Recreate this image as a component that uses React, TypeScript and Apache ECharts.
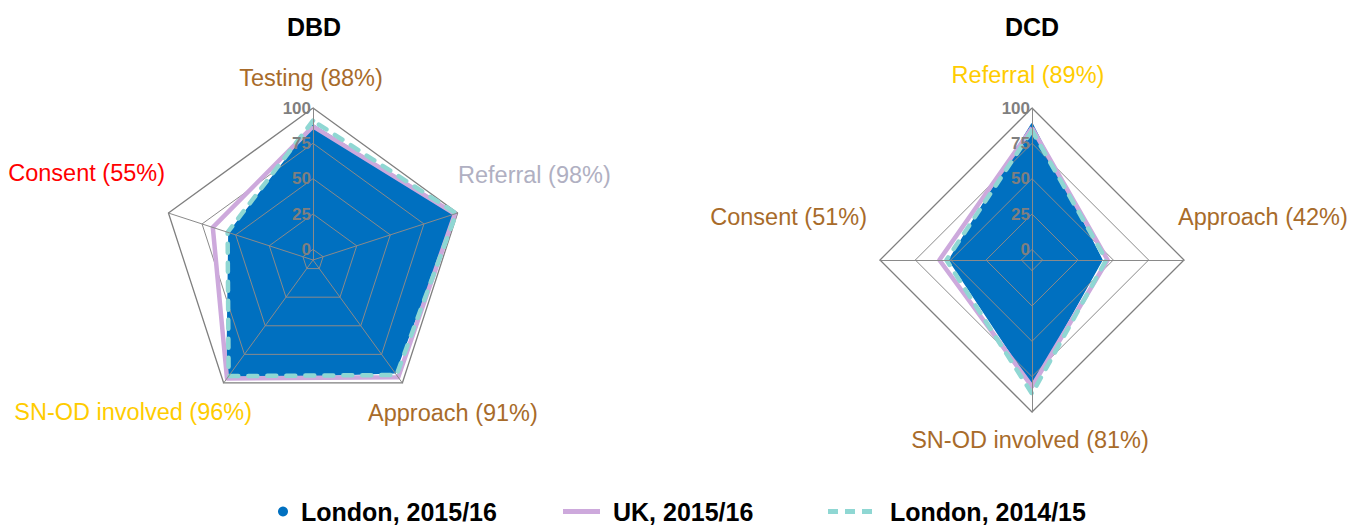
import React, { useEffect, useRef } from "react";
import * as echarts from "echarts";

// ---------- Data ----------
const seriesNames = ["London, 2015/16", "UK, 2015/16", "London, 2014/15"];

// DBD axes, in radar order (counter-clockwise from top)
const dbdAxes = ["Testing (88%)", "Consent (55%)", "SN-OD involved (96%)", "Approach (91%)", "Referral (98%)"];
const dbdLondon1516 = [88, 55, 96, 91, 98];
const dbdUK1516 = [87, 67, 96, 95, 98];
const dbdLondon1415 = [91, 56, 94, 93, 99];

// DCD axes, in radar order (counter-clockwise from top)
const dcdAxes = ["Referral (89%)", "Consent (51%)", "SN-OD involved (81%)", "Approach (42%)"];
const dcdLondon1516 = [89, 51, 81, 42];
const dcdUK1516 = [86, 58, 82, 46];
const dcdLondon1415 = [84, 53, 87, 45];

const ringLevels = [0, 25, 50, 75, 100];
const axisMin = -7.5;
const axisMax = 100;

// ---------- Styles ----------
const FONT = "'Liberation Sans', Arial, sans-serif";
const BLUE = "#0070C0";
const PURPLE = "#CDA9DC";
const CYAN = "#8FD7D3";
const GRID = "#8a8a8a";
const BROWN = "#A86B2A";
const GOLD = "#FFCC00";
const RED = "#FF0000";
const LILAC = "#B0B0C2";

const dbdColors = [BROWN, RED, GOLD, BROWN, LILAC];
const dcdColors = [GOLD, BROWN, BROWN, BROWN];

function makeIndicators(axes: string[]) {
  return axes.map((name, i) => ({
    name,
    min: axisMin,
    max: axisMax,
    ...(i === 0 ? { axisLabel: { show: true } } : {}),
  }));
}

function makeRadar(axes: string[], center: number[]) {
  return {
    center,
    radius: 152,
    startAngle: 90,
    splitNumber: 43,
    indicator: makeIndicators(axes),
    axisName: { show: false },
    splitLine: { show: false },
    splitArea: { show: false },
    axisTick: { show: false },
    axisLine: { lineStyle: { color: GRID, width: 1 } },
    axisLabel: {
      show: false,
      color: "#7f7f7f",
      fontSize: 17,
      fontWeight: "bold",
      fontFamily: FONT,
      margin: 2,
      formatter: (v: number) => (v >= 0 && Math.abs(v % 25) < 1e-6 ? String(Math.round(v)) : ""),
    },
    z: 6,
  };
}

function makeSeries(radarIndex: number, n: number, london1516: number[], uk1516: number[], london1415: number[]) {
  const rings = ringLevels.map((lvl) => ({
    type: "radar",
    radarIndex,
    name: "ring" + lvl,
    silent: true,
    symbol: "none",
    z: 3,
    lineStyle: { color: lvl === 100 ? "#7f7f7f" : GRID, width: lvl === 100 ? 1.3 : 1 },
    data: [{ value: new Array(n).fill(lvl) }],
  }));
  return [
    {
      type: "radar",
      radarIndex,
      name: seriesNames[0],
      symbol: "none",
      z: 2,
      itemStyle: { color: BLUE },
      lineStyle: { color: BLUE, width: 1.5 },
      areaStyle: { color: BLUE, opacity: 1 },
      data: [{ value: london1516, name: seriesNames[0] }],
    },
    ...rings,
    {
      type: "radar",
      radarIndex,
      name: seriesNames[1],
      symbol: "none",
      z: 4,
      itemStyle: { color: PURPLE },
      lineStyle: { color: PURPLE, width: 4.5 },
      data: [{ value: uk1516, name: seriesNames[1] }],
    },
    {
      type: "radar",
      radarIndex,
      name: seriesNames[2],
      symbol: "none",
      z: 5,
      itemStyle: { color: CYAN },
      lineStyle: { color: CYAN, width: 4.5, type: [9, 10], cap: "round" },
      data: [{ value: london1415, name: seriesNames[2] }],
    },
  ];
}

function label(text: string, x: number, y: number, color: string, align: string, size = 23.5, weight = "normal") {
  return {
    type: "text",
    x,
    y,
    silent: true,
    style: {
      text,
      fill: color,
      fontSize: size,
      fontWeight: weight,
      fontFamily: FONT,
      align,
      verticalAlign: "middle",
    },
  };
}

function legendItem(name: string, left: number, width: number, height: number, icon: string, color: string, pad: number) {
  return {
    left,
    top: 499,
    padding: 0,
    orient: "horizontal",
    itemWidth: width,
    itemHeight: height,
    symbolKeepAspect: true,
    itemStyle: { borderWidth: 0 },
    textStyle: {
      color: "#000",
      fontSize: 25,
      fontWeight: "bold",
      fontFamily: FONT,
      lineHeight: 25,
      padding: [0, 0, 0, pad],
    },
    data: [{ name, icon, itemStyle: { color, borderWidth: 0 } }],
  };
}

export default function App() {
  const ref = useRef<HTMLDivElement>(null);
  useEffect(() => {
    if (!ref.current) return;
    const chart = echarts.init(ref.current, undefined, { renderer: "svg" });
    const option = {
      animation: false,
      textStyle: { fontFamily: FONT },
      radar: [makeRadar(dbdAxes, [313, 260]), makeRadar(dcdAxes, [1032, 260])],
      legend: [
        legendItem(seriesNames[0], 278, 10, 10, "circle", BLUE, 8),
        legendItem(seriesNames[1], 563, 37, 5, "rect", PURPLE, 8),
        legendItem(
          seriesNames[2],
          828,
          44,
          5,
          "path://M0,0h10v5h-10z M17,0h10v5h-10z M34,0h10v5h-10z",
          CYAN,
          13
        ),
      ],
      graphic: [
        label("DBD", 314, 27, "#000", "center", 25, "bold"),
        label("DCD", 1032, 27, "#000", "center", 25, "bold"),
        label(dbdAxes[0], 311, 78, dbdColors[0], "center"),
        label(dbdAxes[4], 458, 175, dbdColors[4], "left"),
        label(dbdAxes[1], 165, 173, dbdColors[1], "right"),
        label(dbdAxes[2], 252, 412, dbdColors[2], "right"),
        label(dbdAxes[3], 368, 413, dbdColors[3], "left"),
        label(dcdAxes[0], 1028, 75, dcdColors[0], "center"),
        label(dcdAxes[1], 867, 217, dcdColors[1], "right"),
        label(dcdAxes[3], 1178, 217, dcdColors[3], "left"),
        label(dcdAxes[2], 1030, 440, dcdColors[2], "center"),
      ],
      series: [
        ...makeSeries(0, dbdAxes.length, dbdLondon1516, dbdUK1516, dbdLondon1415),
        ...makeSeries(1, dcdAxes.length, dcdLondon1516, dcdUK1516, dcdLondon1415),
      ],
    };
    chart.setOption(option as any);
    return () => chart.dispose();
  }, []);
  return (
    <div
      ref={ref}
      style={{ position: "absolute", left: 0, top: 0, width: 1359, height: 525 }}
    />
  );
}
